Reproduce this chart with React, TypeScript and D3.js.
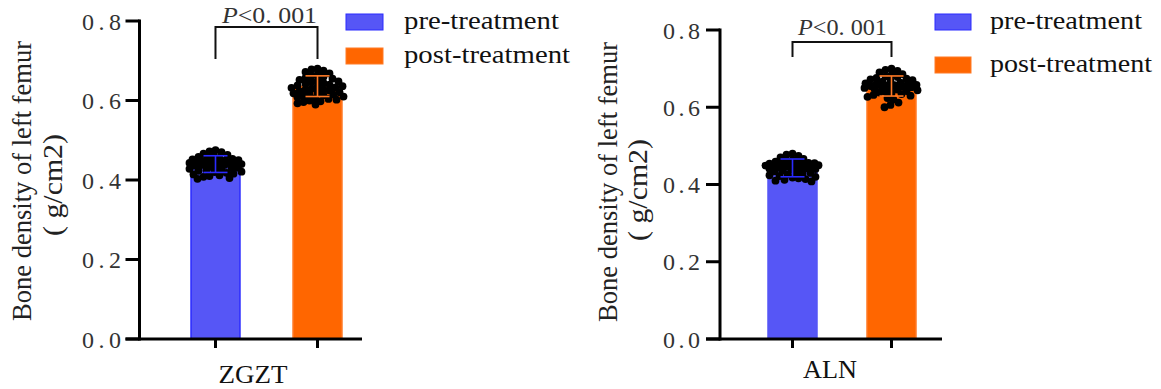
import React from "react";
import * as d3 from "d3";

// Groups and series
const groups = ["pre-treatment", "post-treatment"];
const panelNames = ["ZGZT", "ALN"];
const yTicks = [0, 0.2, 0.4, 0.6, 0.8];
const pLabel = "<0. 001";

// Bar heights (group means) and standard deviations
const zgztMeans = [0.44, 0.636];
const zgztSD = [0.021, 0.026];
const alnMeans = [0.443, 0.655];
const alnSD = [0.023, 0.026];

// Individual bone density readings (g/cm2)
const zgztPre = [
  0.475, 0.472, 0.47, 0.466, 0.463, 0.461, 0.458, 0.456, 0.455, 0.453, 0.452,
  0.45, 0.449, 0.448, 0.447, 0.446, 0.445, 0.444, 0.443, 0.442, 0.441, 0.44,
  0.439, 0.438, 0.437, 0.436, 0.434, 0.433, 0.431, 0.43, 0.428, 0.427, 0.425,
  0.423, 0.421, 0.42, 0.418, 0.416, 0.414, 0.412, 0.41, 0.408, 0.405, 0.403,
];
const zgztPost = [
  0.68, 0.678, 0.675, 0.672, 0.668, 0.665, 0.662, 0.66, 0.657, 0.655, 0.652,
  0.65, 0.648, 0.646, 0.644, 0.642, 0.64, 0.638, 0.636, 0.635, 0.633, 0.632,
  0.63, 0.628, 0.627, 0.625, 0.623, 0.621, 0.62, 0.618, 0.616, 0.615, 0.613,
  0.611, 0.61, 0.608, 0.606, 0.604, 0.602, 0.6, 0.598, 0.596, 0.593, 0.59,
];
const alnPre = [
  0.48, 0.477, 0.474, 0.47, 0.466, 0.463, 0.461, 0.459, 0.457, 0.456, 0.455,
  0.454, 0.453, 0.452, 0.451, 0.45, 0.449, 0.448, 0.447, 0.446, 0.445, 0.444,
  0.443, 0.442, 0.441, 0.44, 0.438, 0.436, 0.434, 0.432, 0.43, 0.428, 0.426,
  0.424, 0.422, 0.42, 0.418, 0.416, 0.414, 0.412, 0.41, 0.408,
];
const alnPost = [
  0.7, 0.697, 0.694, 0.69, 0.686, 0.683, 0.68, 0.678, 0.676, 0.674, 0.672,
  0.67, 0.668, 0.666, 0.664, 0.662, 0.66, 0.659, 0.658, 0.657, 0.656, 0.655,
  0.654, 0.653, 0.652, 0.651, 0.65, 0.648, 0.646, 0.644, 0.642, 0.64, 0.638,
  0.636, 0.634, 0.632, 0.63, 0.627, 0.624, 0.62, 0.612, 0.606, 0.6,
];

const FILL = ["#5656f6", "#ff6600"];
const STROKE = ["#2b2bff", "#ff7a26"];
const SERIF = '"Liberation Serif", "Times New Roman", serif';
const R = 3.9;

type Layout = {
  axisX: number;
  yTop: number;
  xRange: [number, number];
  padInner: number;
  axisEnd: number;
  tickLabelRight: number;
  tickLabelLen: number;
  titleX: [number, number];
  titleY: [number, number];
  catX: number;
  catY: number;
  catLen: number;
  bracketTop: number;
  bracketBottom: number;
  pX: number;
  pY: number;
  pLen: number;
  legX: number;
  legRectW: number;
  legY: [number, number];
  legTextX: number;
  legTextLen: [number, number];
  preStroke: boolean;
};

const layouts: Layout[] = [
  {
    axisX: 139.5,
    yTop: 21,
    xRange: [140, 393],
    padInner: 0.52,
    axisEnd: 362,
    tickLabelRight: 121,
    tickLabelLen: 39,
    titleX: [31, 62],
    titleY: [181, 185],
    catX: 253,
    catY: 383,
    catLen: 69,
    bracketTop: 27,
    bracketBottom: 59,
    pX: 222,
    pY: 23,
    pLen: 95,
    legX: 346,
    legRectW: 37,
    legY: [14, 48],
    legTextX: 404,
    legTextLen: [155, 166],
    preStroke: true,
  },
  {
    axisX: 720,
    yTop: 30,
    xRange: [718.5, 965.5],
    padInner: 0.505,
    axisEnd: 942,
    tickLabelRight: 700,
    tickLabelLen: 37,
    titleX: [617, 647],
    titleY: [182, 190],
    catX: 830,
    catY: 378,
    catLen: 54,
    bracketTop: 42,
    bracketBottom: 57,
    pX: 798,
    pY: 35,
    pLen: 89,
    legX: 935,
    legRectW: 36,
    legY: [14, 57],
    legTextX: 990,
    legTextLen: [152, 162],
    preStroke: false,
  },
];

const panels = [
  { name: panelNames[0], means: zgztMeans, sd: zgztSD, points: [zgztPre, zgztPost] },
  { name: panelNames[1], means: alnMeans, sd: alnSD, points: [alnPre, alnPost] },
];

// Deterministic beeswarm: each dot takes the closest free horizontal slot
function swarm(values: number[], y: (v: number) => number, cx: number, half: number) {
  const placed: { x: number; y: number }[] = [];
  const minD = R * 1.5;
  for (const v of values) {
    const cy = y(v);
    let best = { x: cx, score: -Infinity };
    let chosen: number | null = null;
    for (let k = 0; k <= half * 2; k++) {
      const off = k % 2 === 0 ? k / 2 : -(k + 1) / 2;
      const x = cx + off;
      let dmin = Infinity;
      for (const p of placed) dmin = Math.min(dmin, Math.hypot(p.x - x, p.y - cy));
      if (dmin >= minD) {
        chosen = x;
        break;
      }
      if (dmin > best.score) best = { x, score: dmin };
    }
    placed.push({ x: chosen ?? best.x, y: cy });
  }
  return placed;
}

const txt = (size: number): React.CSSProperties => ({ fontFamily: SERIF, fontSize: size });

function Panel({ p, L }: { p: (typeof panels)[number]; L: Layout }) {
  const y = d3.scaleLinear().domain([0, 0.8]).range([339, L.yTop]);
  const x = d3
    .scaleBand<string>()
    .domain(groups)
    .range(L.xRange)
    .paddingInner(L.padInner)
    .paddingOuter(0.5);
  const bw = x.bandwidth();
  const fmt = d3.format(".1f");
  const y0 = y(0);
  const cxs = groups.map((g) => (x(g) as number) + bw / 2);

  return (
    <g>
      {/* bars */}
      {groups.map((g, i) => (
        <rect
          key={g}
          x={x(g)}
          y={y(p.means[i])}
          width={bw}
          height={y0 - y(p.means[i])}
          fill={FILL[i]}
          stroke={i === 0 && !L.preStroke ? FILL[i] : STROKE[i]}
          strokeWidth={1.5}
        />
      ))}
      {/* individual readings */}
      {groups.map((g, i) =>
        swarm(p.points[i], y, cxs[i], bw / 2 + 2).map((d, j) => (
          <circle key={g + j} cx={d.x} cy={d.y} r={R} fill="#000" />
        ))
      )}
      {/* SD error bars */}
      {groups.map((g, i) => {
        const top = y(p.means[i] + p.sd[i]);
        const bot = y(p.means[i] - p.sd[i]);
        return (
          <g key={g} stroke={STROKE[i]} strokeWidth={1.6}>
            <line x1={cxs[i]} x2={cxs[i]} y1={top} y2={bot} />
            <line x1={cxs[i] - 12} x2={cxs[i] + 12} y1={top} y2={top} />
            <line x1={cxs[i] - 12} x2={cxs[i] + 12} y1={bot} y2={bot} />
          </g>
        );
      })}
      {/* axes */}
      <g stroke="#000" strokeWidth={3} fill="none">
        <line x1={L.axisX} x2={L.axisX} y1={y(0.8) - 1.5} y2={y0 + 1.5} />
        <line x1={L.axisX - 14} x2={L.axisEnd} y1={y0} y2={y0} />
        {yTicks.map((t) => (
          <line key={t} x1={L.axisX - 14} x2={L.axisX} y1={y(t)} y2={y(t)} />
        ))}
        {cxs.map((c, i) => (
          <line key={i} x1={c} x2={c} y1={y0} y2={y0 + 9} />
        ))}
      </g>
      {yTicks.map((t) => (
        <text
          key={t}
          x={L.tickLabelRight}
          y={y(t) + 8.5}
          textAnchor="end"
          style={txt(24)}
          fill="#333"
          textLength={L.tickLabelLen}
          lengthAdjust="spacing"
        >
          {fmt(t)}
        </text>
      ))}
      {/* axis title */}
      <text
        transform={`translate(${L.titleX[0]},${L.titleY[0]}) rotate(-90)`}
        textAnchor="middle"
        style={txt(28)}
        fill="#222"
        textLength={280}
        lengthAdjust="spacingAndGlyphs"
      >
        Bone density of left femur
      </text>
      <text
        transform={`translate(${L.titleX[1]},${L.titleY[1]}) rotate(-90)`}
        textAnchor="middle"
        style={txt(28)}
        fill="#222"
        textLength={102}
        lengthAdjust="spacingAndGlyphs"
      >
        ( g/cm2)
      </text>
      {/* category label */}
      <text
        x={L.catX}
        y={L.catY}
        textAnchor="middle"
        style={txt(25)}
        fill="#111"
        textLength={L.catLen}
        lengthAdjust="spacingAndGlyphs"
      >
        {p.name}
      </text>
      {/* significance bracket */}
      <path
        d={`M${cxs[0]},${L.bracketBottom}V${L.bracketTop}H${cxs[1]}V${L.bracketBottom}`}
        fill="none"
        stroke="#111"
        strokeWidth={2}
      />
      <text
        x={L.pX}
        y={L.pY}
        style={txt(23)}
        fill="#333"
        textLength={L.pLen}
        lengthAdjust="spacingAndGlyphs"
      >
        <tspan fontStyle="italic">P</tspan>
        {pLabel}
      </text>
      {/* legend */}
      {groups.map((g, i) => (
        <g key={g}>
          <rect
            x={L.legX}
            y={L.legY[i]}
            width={L.legRectW}
            height={16}
            fill={FILL[i]}
            stroke={STROKE[i]}
            strokeWidth={1}
          />
          <text
            x={L.legTextX}
            y={L.legY[i] + 15}
            style={txt(26)}
            fill="#111"
            textLength={L.legTextLen[i]}
            lengthAdjust="spacingAndGlyphs"
          >
            {g}
          </text>
        </g>
      ))}
    </g>
  );
}

export default function App() {
  return (
    <div style={{ position: "absolute", left: 0, top: 0 }}>
      <svg width={1161} height={389} style={{ display: "block", background: "#fff" }}>
        {panels.map((p, i) => (
          <Panel key={p.name} p={p} L={layouts[i]} />
        ))}
      </svg>
    </div>
  );
}
